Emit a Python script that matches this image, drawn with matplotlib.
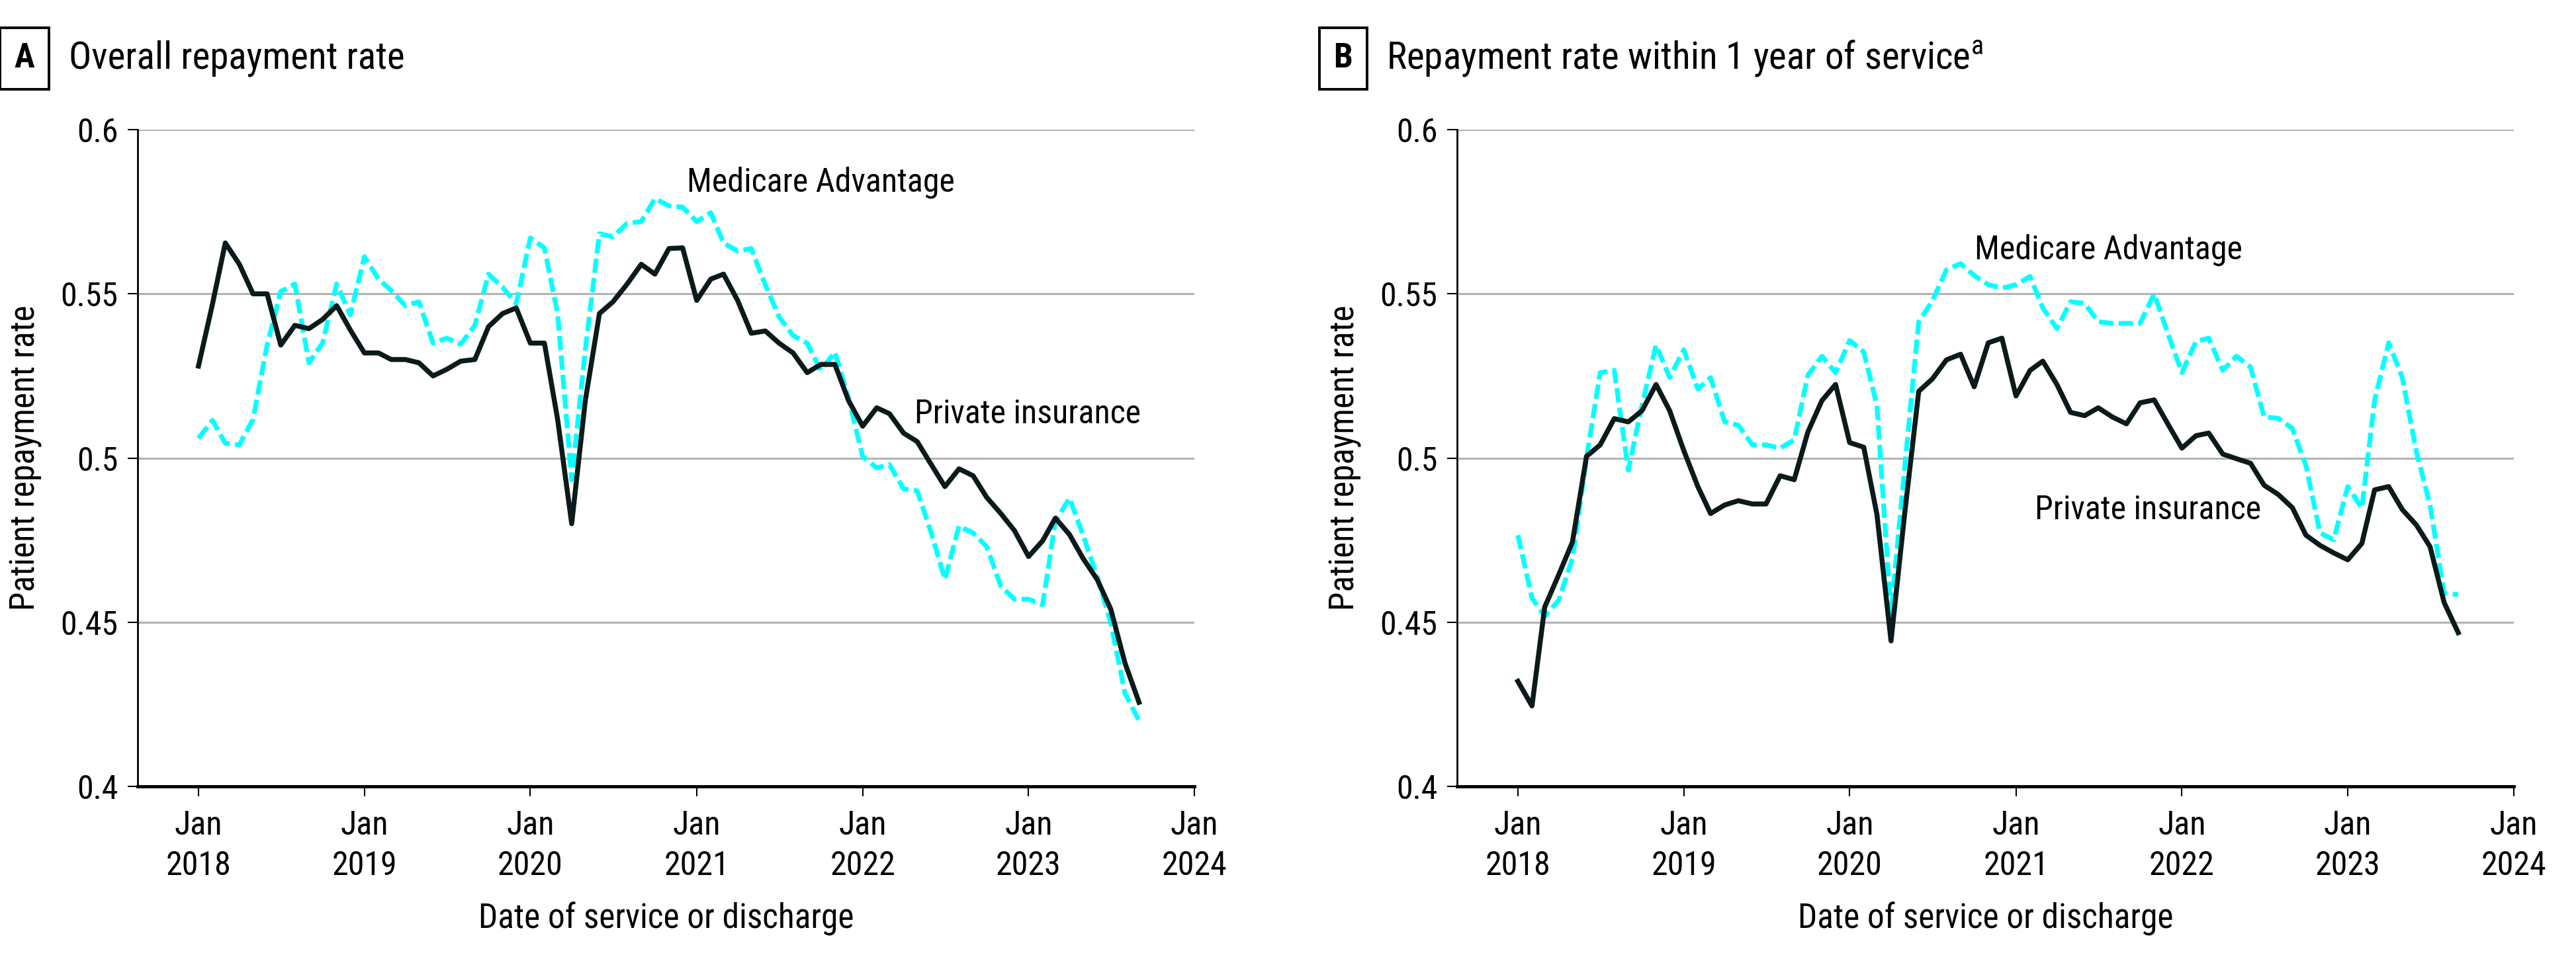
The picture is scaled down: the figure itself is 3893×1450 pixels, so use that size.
import matplotlib
matplotlib.use("Agg")
import matplotlib.pyplot as plt
import pandas as pd

plt.rcParams['font.family'] = ['Liberation Sans Narrow', 'Roboto Condensed', 'DejaVu Sans']

# monthly data, Jan 2018 - Sep 2023
months = pd.date_range("2018-01-01", periods=69, freq="MS")

# panel A: overall repayment rate
private_a = [0.528, 0.547, 0.5655, 0.559, 0.550, 0.550, 0.5344, 0.5404, 0.5394, 0.5422,
             0.5464, 0.539, 0.532, 0.532, 0.530, 0.530, 0.529, 0.525, 0.527, 0.5295,
             0.530, 0.540, 0.544, 0.5457, 0.535, 0.535, 0.5118, 0.480, 0.5175, 0.544,
             0.5476, 0.553, 0.559, 0.556, 0.5638, 0.564, 0.548, 0.5545, 0.556, 0.548,
             0.538, 0.5387, 0.535, 0.532, 0.526, 0.5285, 0.5285, 0.5175, 0.5097, 0.5153,
             0.5135, 0.5076, 0.505, 0.498, 0.4913, 0.4967, 0.4946, 0.488, 0.4831, 0.4779,
             0.470, 0.4748, 0.4817, 0.4767, 0.4694, 0.463, 0.4539, 0.4376, 0.4256]
medicare_a = [0.506, 0.5115, 0.5045, 0.504, 0.5118, 0.5344, 0.5507, 0.553, 0.529, 0.535,
              0.553, 0.5436, 0.5613, 0.5545, 0.551, 0.5464, 0.5476, 0.535, 0.5365, 0.5347,
              0.5404, 0.556, 0.552, 0.547, 0.567, 0.564, 0.544, 0.4934, 0.533, 0.5683,
              0.5674, 0.5715, 0.572, 0.579, 0.5768, 0.5764, 0.572, 0.5747, 0.5655, 0.563,
              0.5638, 0.5528, 0.543, 0.5373, 0.535, 0.5267, 0.5323, 0.5182, 0.5005, 0.497,
              0.498, 0.4906, 0.490, 0.4772, 0.463, 0.4793, 0.4772, 0.473, 0.461, 0.457,
              0.457, 0.4553, 0.4807, 0.4878, 0.4765, 0.4638, 0.4497, 0.4284, 0.420]

# panel B: repayment rate within 1 year of service
private_b = [0.432, 0.4245, 0.4546, 0.4645, 0.4744, 0.5005, 0.504, 0.512, 0.511, 0.5144,
             0.5224, 0.5144, 0.5023, 0.4913, 0.4831, 0.4857, 0.487, 0.486, 0.486, 0.4946,
             0.4934, 0.5079, 0.5175, 0.5224, 0.5047, 0.5033, 0.4828, 0.4443, 0.483, 0.5203,
             0.5241, 0.5299, 0.5316, 0.5217, 0.5351, 0.5365, 0.5189, 0.5267, 0.5295, 0.5224,
             0.5139, 0.5129, 0.5153, 0.5125, 0.5104, 0.5168, 0.5177, 0.5104, 0.503, 0.5068,
             0.5076, 0.5012, 0.4998, 0.4984, 0.4917, 0.4889, 0.4849, 0.4765, 0.4734, 0.4711,
             0.469, 0.474, 0.4903, 0.4913, 0.4843, 0.4796, 0.473, 0.456, 0.4468]
medicare_b = [0.4765, 0.4574, 0.4518, 0.4567, 0.4694, 0.500, 0.526, 0.5267, 0.4963, 0.516,
              0.5344, 0.5245, 0.533, 0.521, 0.5245, 0.511, 0.510, 0.504, 0.504, 0.503,
              0.5055, 0.5252, 0.531, 0.526, 0.5358, 0.5323, 0.516, 0.4525, 0.497, 0.5415,
              0.5479, 0.5573, 0.5592, 0.5556, 0.5528, 0.5517, 0.5528, 0.5553, 0.5457, 0.5394,
              0.5476, 0.5471, 0.5415, 0.541, 0.541, 0.541, 0.550, 0.538, 0.526, 0.5355,
              0.5365, 0.5267, 0.531, 0.5277, 0.5125, 0.5121, 0.509, 0.4977, 0.4772, 0.4751,
              0.4913, 0.4847, 0.5175, 0.5351, 0.5245, 0.5019, 0.4857, 0.4588, 0.4584]

yticks = [0.4, 0.45, 0.5, 0.55, 0.6]
ytick_labels = ["0.4", "0.45", "0.5", "0.55", "0.6"]
year_ticks = pd.date_range("2018-01-01", "2024-01-01", freq="YS")

BLACK = "#0b1a1a"
CYAN = "#00ffff"
FS = 36

fig = plt.figure(figsize=(38.93, 14.50), dpi=100)
ax_a = fig.add_axes([0.0534, 0.180, 0.4103, 0.6848])
ax_b = fig.add_axes([0.5656, 0.180, 0.4102, 0.6848])

panels = [
    (ax_a, private_a, medicare_a, "A", "Overall repayment rate", 0.0, 0.0267,
     (pd.Timestamp("2020-12-10"), 0.584), (pd.Timestamp("2022-04-25"), 0.5134)),
    (ax_b, private_b, medicare_b, "B", "Repayment rate within 1 year of service$^{\\mathregular{a}}$",
     0.5119, 0.5381,
     (pd.Timestamp("2020-10-01"), 0.5633), (pd.Timestamp("2021-02-11"), 0.4842)),
]

for ax, priv, med, letter, title, box_x, title_x, ma_pos, pi_pos in panels:
    for y in yticks[1:]:
        ax.axhline(y, color="#b3b3b3", lw=2.2, zorder=1)
    ax.plot(months, med, color=CYAN, lw=5.2, dashes=(3.0, 1.1), zorder=3)
    ax.plot(months, priv, color=BLACK, lw=5.4, zorder=4)

    ax.set_ylim(0.4, 0.6)
    ax.set_xlim(pd.Timestamp("2017-08-20"), pd.Timestamp("2024-01-01"))
    ax.set_yticks(yticks)
    ax.set_yticklabels(ytick_labels)
    ax.set_xticks(year_ticks)
    ax.set_xticklabels([f"Jan\n{d.year}" for d in year_ticks], linespacing=1.35)

    for s in ["top", "right"]:
        ax.spines[s].set_visible(False)
    ax.spines["left"].set_linewidth(2)
    ax.spines["bottom"].set_linewidth(3.5)
    ax.spines["left"].set_color("black")
    ax.spines["bottom"].set_color("black")
    ax.tick_params(axis="y", length=11, width=1.5, pad=10, labelsize=FS)
    ax.tick_params(axis="x", length=11, width=1.5, pad=14, labelsize=FS)

    ax.set_ylabel("Patient repayment rate", fontsize=37, labelpad=20)
    ax.set_xlabel("Date of service or discharge", fontsize=37, labelpad=22)

    ax.text(ma_pos[0], ma_pos[1], "Medicare Advantage", fontsize=FS, va="center", ha="left", zorder=5)
    ax.text(pi_pos[0], pi_pos[1], "Private insurance", fontsize=FS, va="center", ha="left", zorder=5)

    fig.text(box_x + 0.0095, 0.939, letter, fontsize=37, fontweight="bold", ha="center", va="center",
             bbox=dict(boxstyle="square,pad=0.42", fc="white", ec="black", lw=2.8))
    fig.text(title_x, 0.939, title, fontsize=41, ha="left", va="center")

fig.savefig("out.png", dpi=100)
